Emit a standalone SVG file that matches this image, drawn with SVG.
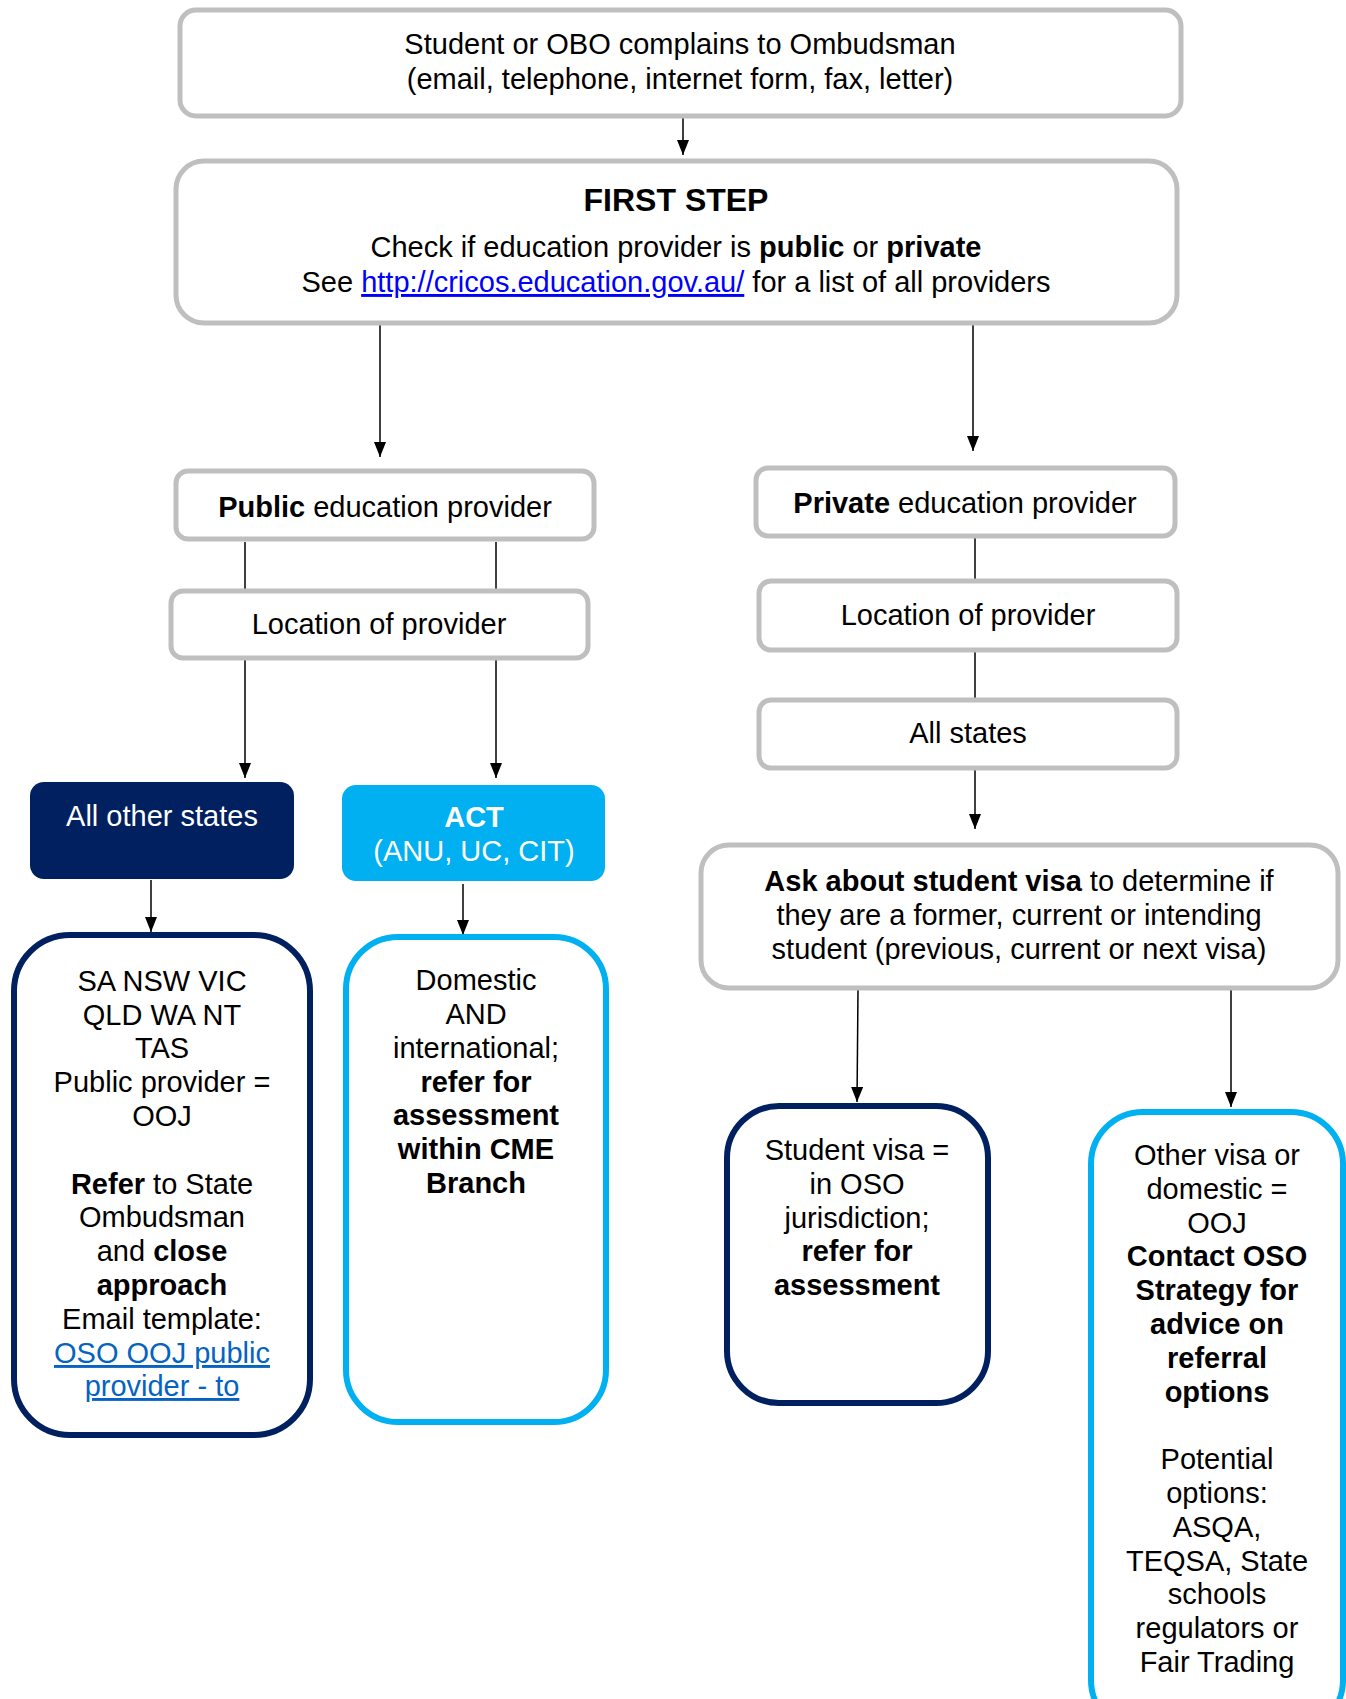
<svg xmlns="http://www.w3.org/2000/svg" width="1346" height="1699" viewBox="0 0 1346 1699">
<style>
text{font-family:"Liberation Sans",Arial,sans-serif;font-size:29px;fill:#000;text-anchor:middle}
.b{font-weight:bold}
.t{font-size:32px}
.w{fill:#fff}
.gray{fill:#fff;stroke:#BFBFBF;stroke-width:5}
.navy{fill:#fff;stroke:#002060;stroke-width:6}
.sky{fill:#fff;stroke:#00B0F0;stroke-width:6}
.conn{stroke:#000;stroke-width:1.5;fill:none}
.lk{fill:#0000FF;text-decoration:underline}
.lk2{fill:#0563C1;text-decoration:underline}
</style>
<defs>
<marker id="ah" viewBox="0 0 15 12" refX="15" refY="6" markerWidth="15" markerHeight="12" markerUnits="userSpaceOnUse" orient="auto">
<path d="M0,0 L15,6 L0,12 z" fill="#000"/>
</marker>
</defs>
<rect width="1346" height="1699" fill="#fff"/>
<g id="connectors">
<line class="conn" x1="683" y1="118" x2="683" y2="155" marker-end="url(#ah)"/>
<line class="conn" x1="380" y1="325" x2="380" y2="457" marker-end="url(#ah)"/>
<line class="conn" x1="973" y1="325" x2="973" y2="451" marker-end="url(#ah)"/>
<line class="conn" x1="245" y1="542" x2="245" y2="589"/>
<line class="conn" x1="496" y1="542" x2="496" y2="589"/>
<line class="conn" x1="245" y1="660" x2="245" y2="778" marker-end="url(#ah)"/>
<line class="conn" x1="496" y1="660" x2="496" y2="778" marker-end="url(#ah)"/>
<line class="conn" x1="151" y1="880" x2="151" y2="932" marker-end="url(#ah)"/>
<line class="conn" x1="463" y1="884" x2="463" y2="935" marker-end="url(#ah)"/>
<line class="conn" x1="975" y1="538" x2="975" y2="579"/>
<line class="conn" x1="975" y1="652" x2="975" y2="698"/>
<line class="conn" x1="975" y1="770" x2="975" y2="829" marker-end="url(#ah)"/>
<line class="conn" x1="858" y1="990" x2="857" y2="1102" marker-end="url(#ah)"/>
<line class="conn" x1="1231" y1="990" x2="1231" y2="1107" marker-end="url(#ah)"/>
</g>
<g id="n-complain">
<rect class="gray" x="180" y="10" width="1001" height="106" rx="16"/>
<text x="680" y="54">Student or OBO complains to Ombudsman</text>
<text x="680" y="89">(email, telephone, internet form, fax, letter)</text>
</g>
<g id="n-firststep">
<rect class="gray" x="176" y="161" width="1001" height="162" rx="28"/>
<text class="b t" x="676" y="211">FIRST STEP</text>
<text x="676" y="257">Check if education provider is <tspan class="b">public</tspan> or <tspan class="b">private</tspan></text>
<text x="676" y="292">See <tspan class="lk">http://cricos.education.gov.au/</tspan> for a list of all providers</text>
</g>
<g id="n-public">
<rect class="gray" x="176" y="471" width="418" height="68" rx="12"/>
<text x="385" y="517"><tspan class="b">Public</tspan> education provider</text>
</g>
<g id="n-location-left">
<rect class="gray" x="171" y="591" width="417" height="67" rx="12"/>
<text x="379" y="634">Location of provider</text>
</g>
<g id="n-allother">
<rect x="30" y="782" width="264" height="97" rx="14" fill="#002060"/>
<text class="w" x="162" y="826">All other states</text>
</g>
<g id="n-act">
<rect x="342" y="785" width="263" height="96" rx="14" fill="#00B0F0"/>
<text class="w b" x="474" y="827">ACT</text>
<text class="w" x="474" y="861">(ANU, UC, CIT)</text>
</g>
<g id="n-sa">
<rect class="navy" x="14" y="935" width="296" height="500" rx="56"/>
<text x="162" y="991">SA NSW VIC</text>
<text x="162" y="1025">QLD WA NT</text>
<text x="162" y="1058">TAS</text>
<text x="162" y="1092">Public provider =</text>
<text x="162" y="1126">OOJ</text>
<text x="162" y="1194"><tspan class="b">Refer</tspan> to State</text>
<text x="162" y="1227">Ombudsman</text>
<text x="162" y="1261">and <tspan class="b">close</tspan></text>
<text class="b" x="162" y="1295">approach</text>
<text x="162" y="1329">Email template:</text>
<text class="lk2" x="162" y="1363">OSO OOJ public</text>
<text class="lk2" x="162" y="1396">provider - to</text>
</g>
<g id="n-domestic">
<rect class="sky" x="346" y="937" width="260" height="485" rx="52"/>
<text x="476" y="990">Domestic</text>
<text x="476" y="1024">AND</text>
<text x="476" y="1058">international;</text>
<text class="b" x="476" y="1092">refer for</text>
<text class="b" x="476" y="1125">assessment</text>
<text class="b" x="476" y="1159">within CME</text>
<text class="b" x="476" y="1193">Branch</text>
</g>
<g id="n-private">
<rect class="gray" x="756" y="468" width="419" height="68" rx="12"/>
<text x="965" y="513"><tspan class="b">Private</tspan> education provider</text>
</g>
<g id="n-location-right">
<rect class="gray" x="759" y="581" width="418" height="69" rx="12"/>
<text x="968" y="625">Location of provider</text>
</g>
<g id="n-allstates">
<rect class="gray" x="759" y="700" width="418" height="68" rx="12"/>
<text x="968" y="743">All states</text>
</g>
<g id="n-visa">
<rect class="gray" x="701" y="845" width="637" height="143" rx="28"/>
<text x="1019" y="891"><tspan class="b">Ask about student visa</tspan> to determine if</text>
<text x="1019" y="925">they are a former, current or intending</text>
<text x="1019" y="959">student (previous, current or next visa)</text>
</g>
<g id="n-studentvisa">
<rect class="navy" x="727" y="1106" width="261" height="297" rx="52"/>
<text x="857" y="1160">Student visa =</text>
<text x="857" y="1194">in OSO</text>
<text x="857" y="1228">jurisdiction;</text>
<text class="b" x="857" y="1261">refer for</text>
<text class="b" x="857" y="1295">assessment</text>
</g>
<g id="n-othervisa">
<rect class="sky" x="1091" y="1112" width="252" height="620" rx="52"/>
<text x="1217" y="1165">Other visa or</text>
<text x="1217" y="1199">domestic =</text>
<text x="1217" y="1233">OOJ</text>
<text class="b" x="1217" y="1266">Contact OSO</text>
<text class="b" x="1217" y="1300">Strategy for</text>
<text class="b" x="1217" y="1334">advice on</text>
<text class="b" x="1217" y="1368">referral</text>
<text class="b" x="1217" y="1402">options</text>
<text x="1217" y="1469">Potential</text>
<text x="1217" y="1503">options:</text>
<text x="1217" y="1537">ASQA,</text>
<text x="1217" y="1571">TEQSA, State</text>
<text x="1217" y="1604">schools</text>
<text x="1217" y="1638">regulators or</text>
<text x="1217" y="1672">Fair Trading</text>
</g>
</svg>
